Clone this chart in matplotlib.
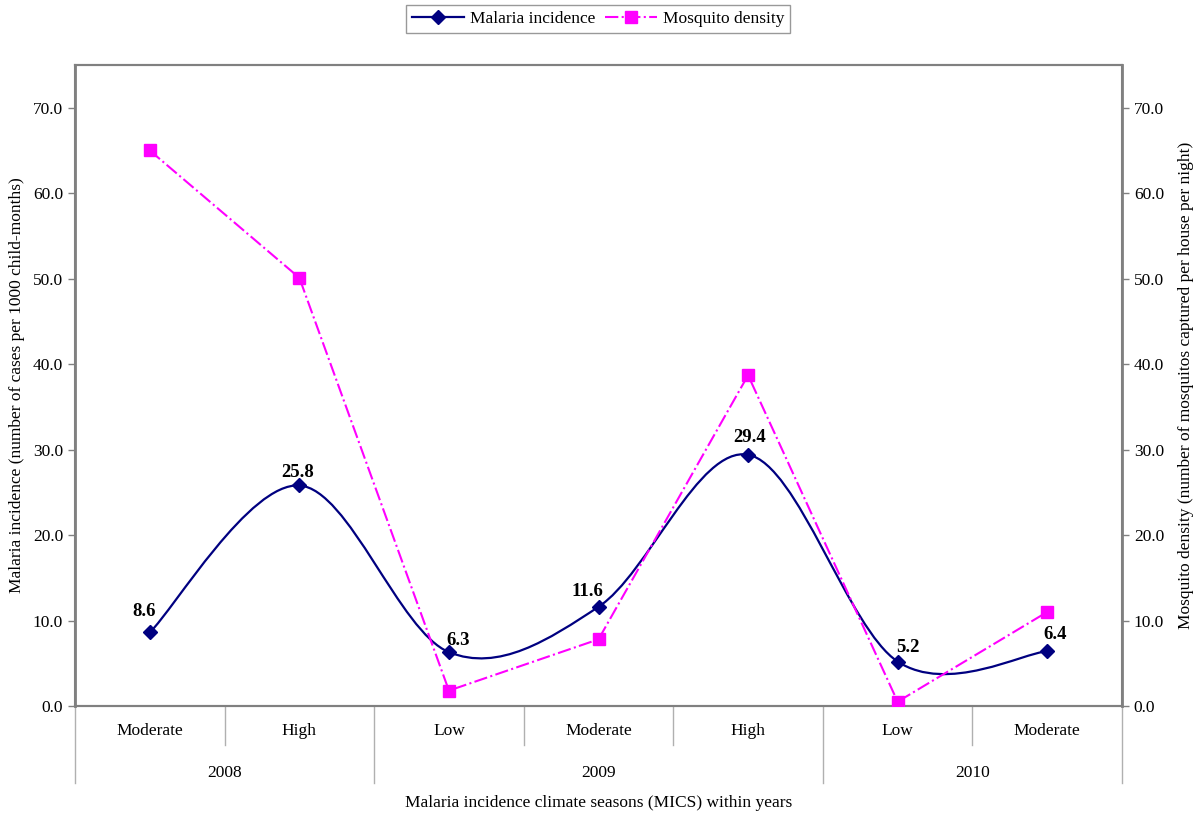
import numpy as np
import matplotlib
matplotlib.use('Agg')
import matplotlib.pyplot as plt
from matplotlib.path import Path
from matplotlib.patches import PathPatch
from matplotlib.lines import Line2D
from matplotlib.ticker import FormatStrFormatter

plt.rcParams['font.family'] = ['Liberation Serif', 'DejaVu Serif']

# data
seasons = ['Moderate', 'High', 'Low', 'Moderate', 'High', 'Low', 'Moderate']
years = ['2008', '2009', '2010']
year_spans = [(0, 1), (2, 4), (5, 6)]
malaria = [8.6, 25.8, 6.3, 11.6, 29.4, 5.2, 6.4]
mosquito = [65.0, 50.1, 1.8, 7.8, 38.7, 0.5, 11.0]

# label nudges (pixels), like the hand-placed labels in the original
label_dx = [-6, -2, 9, -11, 2, 10, 8]
label_dy = [21, 13, 12, 15, 17, 14, 17]

navy = '#000080'
magenta = '#FF00FF'
grey = '#808080'

fig = plt.figure(figsize=(12, 8.19), dpi=100)
ax = fig.add_axes([0.0625, 0.138, 0.8725, 0.7826])
ax2 = ax.twinx()

x = np.arange(len(seasons))

# smoothed line (Excel-like Catmull-Rom bezier)
pts = np.column_stack([x, malaria]).astype(float)
ext = np.vstack([pts[0], pts, pts[-1]])
verts = [tuple(pts[0])]
codes = [Path.MOVETO]
for i in range(len(pts) - 1):
    p0, p1, p2, p3 = ext[i], ext[i + 1], ext[i + 2], ext[i + 3]
    c1 = p1 + (p2 - p0) / 6.0
    c2 = p2 - (p3 - p1) / 6.0
    verts += [tuple(c1), tuple(c2), tuple(p2)]
    codes += [Path.CURVE4] * 3
ax.add_patch(PathPatch(Path(verts, codes), facecolor='none', edgecolor=navy, lw=1.6, zorder=3))
ax.plot(x, malaria, ls='none', marker='D', ms=7, color=navy, zorder=4)
for xi, v, dx, dy in zip(x, malaria, label_dx, label_dy):
    ax.annotate(f'{v:.1f}', (xi, v), xytext=(dx, dy), textcoords='offset pixels',
                ha='center', va='center', fontsize=13.5, fontweight='bold')

ax2.plot(x, mosquito, ls='-.', marker='s', ms=8.5, color=magenta, lw=1.5, zorder=3)

for a in (ax, ax2):
    a.set_ylim(0, 75)
    a.set_yticks(np.arange(0, 71, 10))
    a.yaxis.set_major_formatter(FormatStrFormatter('%.1f'))
    a.tick_params(axis='y', labelsize=12.5, color=grey, length=5, width=1)
    for s in a.spines.values():
        s.set_color(grey)
        s.set_linewidth(1.5)
ax.spines['left'].set_linewidth(2)
ax2.spines['right'].set_linewidth(2)

ax.set_xlim(-0.5, len(seasons) - 0.5)
ax.set_xticks([])

# two-level category axis
trans = ax.get_xaxis_transform()
for xi, s in zip(x, seasons):
    ax.text(xi, -0.039, s, transform=trans, ha='center', va='center', fontsize=12.5)
for (a0, a1), yr in zip(year_spans, years):
    ax.text((a0 + a1) / 2, -0.105, yr, transform=trans, ha='center', va='center', fontsize=12.5)
for b in [0.5, 2.5, 3.5, 5.5]:
    ax.plot([b, b], [0, -0.061], transform=trans, color='#b0b0b0', lw=1, clip_on=False)
for b in [-0.5, 1.5, 4.5, 6.5]:
    ax.plot([b, b], [0, -0.12], transform=trans, color='#b0b0b0', lw=1, clip_on=False)

fig.text(0.4985, 0.02, 'Malaria incidence climate seasons (MICS) within years',
         ha='center', va='center', fontsize=12.5)
ax.set_ylabel('Malaria incidence (number of cases per 1000 child-months)', fontsize=12.5, labelpad=6)
ax2.set_ylabel('Mosquito density (number of mosquitos captured per house per night)',
               fontsize=12.5, rotation=90, labelpad=10)

handles = [Line2D([], [], color=navy, marker='D', ms=7, lw=1.6),
           Line2D([], [], color=magenta, marker='s', ms=8.5, ls='-.', lw=1.5)]
fig.legend(handles, ['Malaria incidence', 'Mosquito density'], loc='upper center',
           bbox_to_anchor=(0.4985, 0.994), borderaxespad=0, ncol=2, fontsize=12.5,
           frameon=True, fancybox=False, edgecolor=grey, handlelength=3,
           columnspacing=0.6, handletextpad=0.3, borderpad=0.35)

fig.savefig('out.png', dpi=100)
